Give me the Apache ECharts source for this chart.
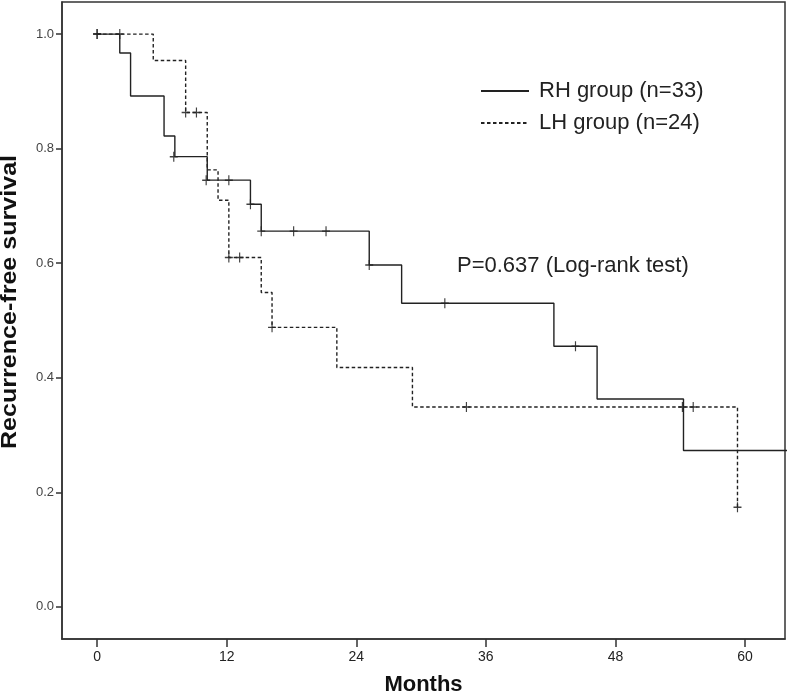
<!DOCTYPE html>
<html>
<head>
<meta charset="utf-8">
<script src="https://cdn.jsdelivr.net/npm/echarts@6/dist/echarts.min.js"></script>
<style>
html,body{margin:0;padding:0;background:#fff;}
#c{width:787px;height:696px;}
</style>
</head>
<body>
<div id="c"></div>
<script>
// RH group (solid) step vertices: time (months) and survival from that time
var rhTimes = [0, 2.1, 3.1, 6.2, 7.2, 10.2, 14.2, 15.2, 25.2, 28.2, 42.3, 46.3, 54.3, 64];
var rhSurv  = [1.0, 0.967, 0.892, 0.822, 0.786, 0.745, 0.703, 0.656, 0.597, 0.530, 0.455, 0.363, 0.273, 0.273];
// LH group (dashed)
var lhTimes = [0, 5.2, 8.2, 10.2, 11.2, 12.2, 15.2, 16.2, 22.2, 29.2, 59.3];
var lhSurv  = [1.0, 0.954, 0.863, 0.763, 0.710, 0.610, 0.549, 0.488, 0.418, 0.349, 0.174];
// Censored observations
var rhCensT = [0, 7.1, 10.1, 12.2, 14.2, 15.2, 18.2, 21.2, 25.2, 32.2, 44.3];
var rhCensS = [1.0, 0.786, 0.745, 0.745, 0.703, 0.656, 0.656, 0.656, 0.597, 0.530, 0.455];
var lhCensT = [0, 2.1, 8.2, 9.2, 12.2, 13.2, 16.2, 34.2, 54.2, 55.2, 59.3];
var lhCensS = [1.0, 1.0, 0.863, 0.863, 0.610, 0.610, 0.488, 0.349, 0.349, 0.349, 0.174];
// Axis ticks
var xTicks = [0, 12, 24, 36, 48, 60];
var yTicks = [0, 0.2, 0.4, 0.6, 0.8, 1.0];
var seriesNames = ['RH group (n=33)', 'LH group (n=24)'];
var xTitle = 'Months';
var yTitle = 'Recurrence-free survival';
var pText = 'P=0.637 (Log-rank test)';

function zip(a, b) { return a.map(function (v, i) { return [v, b[i]]; }); }

var FONT = 'Liberation Sans, Arial, sans-serif';
var censorSymbol = 'path://M5,0L5,10M0,5L10,5';

var chart = echarts.init(document.getElementById('c'), null, {renderer: 'canvas'});
chart.setOption({
  animation: false,
  backgroundColor: '#fff',
  grid: {left: 62, top: 2, right: 2, bottom: 57, show: true, borderColor: '#333', borderWidth: 1.5,
         backgroundColor: 'transparent', outerBoundsMode: 'none', containLabel: false},
  xAxis: {
    type: 'value', min: -3.25, max: 63.7,
    name: xTitle, nameLocation: 'middle', nameGap: 35,
    nameTextStyle: {fontFamily: FONT, fontWeight: 'bold', fontSize: 22, color: '#111'},
    axisLine: {show: true, onZero: false, lineStyle: {color: '#333', width: 1.5}},
    axisTick: {show: true, length: 8, lineStyle: {color: '#333', width: 1.5}, customValues: xTicks},
    axisLabel: {fontFamily: FONT, fontSize: 14, color: '#222', margin: 11, customValues: xTicks},
    splitLine: {show: false}
  },
  yAxis: {
    type: 'value', min: -0.056, max: 1.056,
    axisLine: {show: true, onZero: false, lineStyle: {color: '#333', width: 1.5}},
    axisTick: {show: true, length: 6, lineStyle: {color: '#333', width: 1.5}, customValues: yTicks},
    axisLabel: {fontFamily: FONT, fontSize: 13, color: '#444', margin: 8, customValues: yTicks,
      formatter: function (v) { return v.toFixed(1); }},
    splitLine: {show: false}
  },
  legend: {
    data: seriesNames, orient: 'vertical', left: 480, top: 80, padding: 0,
    itemWidth: 48, itemHeight: 14, itemGap: 10,
    itemStyle: {color: 'transparent', borderColor: 'transparent', borderWidth: 0},
    textStyle: {fontFamily: FONT, fontSize: 22, color: '#222', padding: [0, 0, 0, 5]}
  },
  graphic: [{
    type: 'text', left: 457, top: 255,
    style: {text: pText, font: '22px ' + FONT, fill: '#222'}
  }, {
    type: 'text', x: 10, y: 302, rotation: Math.PI / 2, scaleX: 1.14,
    style: {text: yTitle, font: 'bold 22px ' + FONT, fill: '#111', align: 'center', verticalAlign: 'middle'}
  }],
  series: [
    {name: seriesNames[0], type: 'line', step: 'end', data: zip(rhTimes, rhSurv), symbol: 'none',
     lineStyle: {color: '#222', width: 1.4, type: 'solid'}, itemStyle: {color: '#222'}},
    {name: seriesNames[1], type: 'line', step: 'end', data: zip(lhTimes, lhSurv), symbol: 'none',
     lineStyle: {color: '#222', width: 1.4, type: [3.5, 2.5]}, itemStyle: {color: '#222'}},
    {name: 'rhc', type: 'scatter', data: zip(rhCensT, rhCensS), symbol: censorSymbol, symbolSize: [8, 10],
     itemStyle: {color: 'transparent', borderColor: '#111', borderWidth: 1.3}},
    {name: 'lhc', type: 'scatter', data: zip(lhCensT, lhCensS), symbol: censorSymbol, symbolSize: [8, 10],
     itemStyle: {color: 'transparent', borderColor: '#111', borderWidth: 1.3}}
  ]
});
</script>
</body>
</html>
